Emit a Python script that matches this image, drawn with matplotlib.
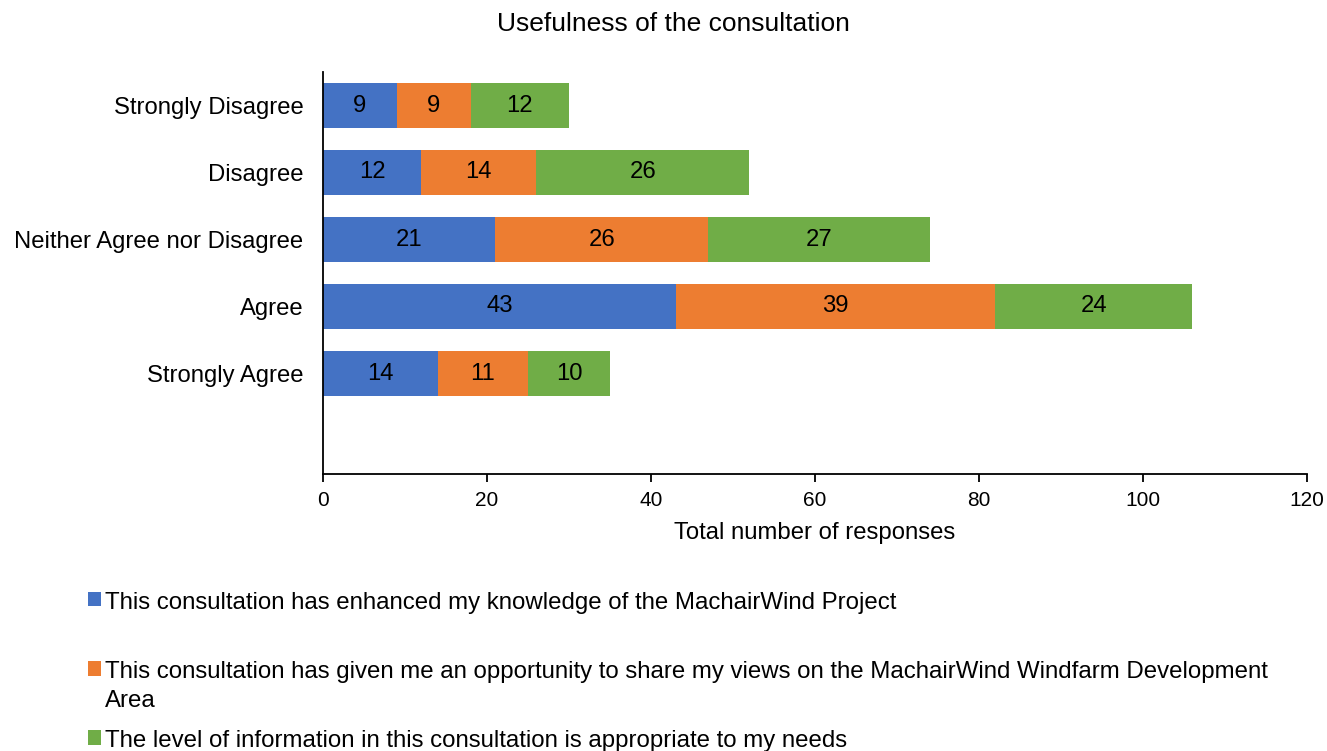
import matplotlib
matplotlib.use("Agg")
import matplotlib.pyplot as plt
import numpy as np

plt.rcParams['font.family'] = ['Liberation Sans', 'DejaVu Sans']

categories = ["Strongly Disagree", "Disagree", "Neither Agree nor Disagree", "Agree", "Strongly Agree"]
series_names = [
    "This consultation has enhanced my knowledge of the MachairWind Project",
    "This consultation has given me an opportunity to share my views on the MachairWind Windfarm Development\nArea",
    "The level of information in this consultation is appropriate to my needs",
]
knowledge = [9, 12, 21, 43, 14]
share_views = [9, 14, 26, 39, 11]
information = [12, 26, 27, 24, 10]
colors = ["#4472C4", "#ED7D31", "#70AD47"]

fig = plt.figure(figsize=(13.27, 7.51), dpi=100)
ax = fig.add_axes([323/1327, 1-474/751, (1307-323)/1327, (474-72)/751])

y = np.arange(len(categories))
left = np.zeros(len(categories))
bars = []
for vals, c, name in zip([knowledge, share_views, information], colors, series_names):
    b = ax.barh(y, vals, left=left, height=0.67, color=c, label=name)
    ax.bar_label(b, labels=[str(v) for v in vals], label_type='center', fontsize=17.2)
    bars.append(b)
    left += np.array(vals)

ax.set_ylim(5.5, -0.5)
ax.set_xlim(0, 120)
ax.set_xticks(range(0, 121, 20))
ax.set_yticks(y)
ax.set_yticklabels(categories, fontsize=17.2)
ax.tick_params(axis='y', length=0, pad=14)
ax.tick_params(axis='x', labelsize=15, length=6, width=1.3, pad=6)
for s in ['top', 'right']:
    ax.spines[s].set_visible(False)
ax.spines['left'].set_linewidth(1.3)
ax.spines['bottom'].set_linewidth(1.3)
ax.set_xlabel("Total number of responses", fontsize=17.2, labelpad=9)

fig.text(673/1327, 1-24/751, "Usefulness of the consultation", fontsize=19,
         ha='center', va='center')

# the first entry gets a blank line so the gaps match the original layout
labels = [series_names[0] + "\n", series_names[1], series_names[2]]
leg = fig.legend(bars, labels, loc='upper left', bbox_to_anchor=(88/1327, 1-592/751),
                 frameon=False, fontsize=17.3, handlelength=0.55, handleheight=0.55,
                 handletextpad=0.15, labelspacing=0.76, borderpad=0, borderaxespad=0)
for t in leg.get_texts():
    t.set_linespacing(1.4)
# put the colour square next to the first line of each label
for col in leg._legend_handle_box.get_children():
    for row in col.get_children():
        row.align = "top"

fig.savefig("out.png", dpi=100)
